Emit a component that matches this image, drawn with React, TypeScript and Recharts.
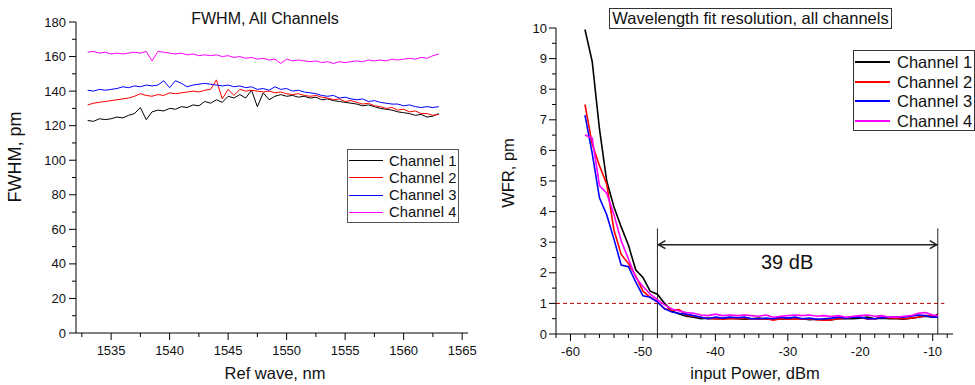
import React from 'react';
import { LineChart, Line, XAxis, YAxis, ReferenceLine, ReferenceDot, Legend } from 'recharts';

const FONT = '"Liberation Sans", Arial, sans-serif';

const channelNames = ['Channel 1', 'Channel 2', 'Channel 3', 'Channel 4'];
const channelColors = ['#000000', '#ff0000', '#0000ff', '#ff00ff'];

// left panel: FWHM vs reference wavelength
const waveNm = [
  1533, 1533.5, 1534, 1534.5, 1535, 1535.5, 1536, 1536.5, 1537, 1537.5,
  1538, 1538.5, 1539, 1539.5, 1540, 1540.5, 1541, 1541.5, 1542, 1542.5,
  1543, 1543.5, 1544, 1544.5, 1545, 1545.5, 1546, 1546.5, 1547, 1547.5,
  1548, 1548.5, 1549, 1549.5, 1550, 1550.5, 1551, 1551.5, 1552, 1552.5,
  1553, 1553.5, 1554, 1554.5, 1555, 1555.5, 1556, 1556.5, 1557, 1557.5,
  1558, 1558.5, 1559, 1559.5, 1560, 1560.5, 1561, 1561.5, 1562, 1562.5, 1563,
];
const fwhmCh1 = [
  123, 122.5, 124, 123.5, 124, 125, 124.5, 126, 127, 130.5,
  123.5, 128, 129, 128.5, 130, 129.5, 131, 130.5, 132, 131.5,
  134, 133, 135, 133.5, 137, 136, 138, 136, 140.5, 131,
  139, 135, 137, 138, 137, 137.5, 136.5, 137, 136, 136.5,
  135, 135.5, 134.5, 134, 133.5, 133, 132.5, 131.5, 132, 131,
  130, 129.5, 129, 128, 127.5, 127, 126, 126.5, 125, 125.5, 127,
];
const fwhmCh2 = [
  132, 133, 133.5, 134, 134.5, 135, 135.5, 136, 137, 138.5,
  137.5, 137, 138, 137.5, 139, 138.5, 139, 139.5, 140, 139.5,
  140.5, 141, 146.5, 135.5, 141, 137.5, 141, 140, 140.5, 140,
  139.5, 140, 139, 139.5, 138.5, 138, 138.5, 137.5, 137, 137.5,
  136.5, 136, 135, 135.5, 134, 134.5, 133.5, 132.5, 133, 131.5,
  131, 130, 130.5, 129, 129.5, 128, 128.5, 127, 127, 126, 126.5,
];
const fwhmCh3 = [
  140.5, 140, 141, 140.5, 141, 141.5, 142.5, 142, 143, 142.5,
  143.5, 143, 143.5, 146, 142, 146, 144.5, 142.5, 143.5, 144,
  144.5, 144, 143.5, 143, 143.5, 142.5, 143, 142, 142.5, 141,
  141.5, 140.5, 142.5, 141, 141.5, 140, 140.5, 139.5, 139, 138.5,
  137.5, 137, 137.5, 136, 136.5, 135.5, 135, 135.5, 134, 134.5,
  133.5, 133, 132.5, 132.5, 131.5, 132, 131, 130.5, 131, 130.5, 131,
];
const fwhmCh4 = [
  162.5, 163, 162, 162.5, 161.5, 162, 161.5, 162, 162.5, 162,
  163, 157.5, 163, 162.5, 162, 161.5, 162, 161, 161.5, 160.5,
  161, 160.5, 161, 160, 160.5, 159.5, 160, 159, 159.5, 158.5,
  159, 158, 158.5, 156, 158.5, 157.5, 158, 157.5, 157, 157.5,
  156.5, 157, 156, 157, 156.5, 157, 157.5, 157, 158, 157.5,
  158, 157.5, 158.5, 158, 158.5, 159, 158.5, 159.5, 159, 160.5, 161.5,
];
const fwhmTicks = [0, 10, 20, 30, 40, 50, 60, 70, 80, 90, 100, 110, 120, 130, 140, 150, 160, 170, 180];
const waveTicks = [1532.5, 1535, 1537.5, 1540, 1542.5, 1545, 1547.5, 1550, 1552.5, 1555, 1557.5, 1560, 1562.5, 1565];

// right panel: wavelength fit resolution vs input power
const powerDbm = [
  -58, -57, -56, -55, -54, -53, -52, -51, -50, -49,
  -48, -47, -46, -45, -44, -43, -42, -41, -40, -39,
  -38, -37, -36, -35, -34, -33, -32, -31, -30, -29,
  -28, -27, -26, -25, -24, -23, -22, -21, -20, -19,
  -18, -17, -16, -15, -14, -13, -12, -11, -10, -9.3,
];
const wfrCh1 = [
  9.95, 8.9, 6.7, 5.0, 4.15, 3.5, 2.9, 2.1, 1.85, 1.4,
  1.3, 1.0, 0.75, 0.65, 0.58, 0.55, 0.5, 0.52, 0.5, 0.5,
  0.52, 0.5, 0.48, 0.5, 0.52, 0.48, 0.5, 0.48, 0.5, 0.5,
  0.5, 0.47, 0.48, 0.46, 0.47, 0.5, 0.5, 0.5, 0.52, 0.55,
  0.5, 0.52, 0.5, 0.5, 0.48, 0.52, 0.55, 0.58, 0.55, 0.65,
];
const wfrCh2 = [
  7.5, 6.2, 5.5, 4.9, 3.4, 2.6, 2.3, 1.9, 1.4, 1.2,
  1.05, 0.82, 0.78, 0.8, 0.62, 0.58, 0.55, 0.5, 0.5, 0.48,
  0.5, 0.5, 0.52, 0.5, 0.48, 0.5, 0.45, 0.5, 0.48, 0.5,
  0.48, 0.5, 0.47, 0.45, 0.46, 0.5, 0.52, 0.55, 0.55, 0.48,
  0.5, 0.55, 0.53, 0.52, 0.5, 0.52, 0.55, 0.6, 0.6, 0.58,
];
const wfrCh3 = [
  7.15, 5.9, 4.45, 3.9, 3.1, 2.25, 2.2, 1.7, 1.25, 1.2,
  1.05, 0.82, 0.72, 0.68, 0.65, 0.6, 0.55, 0.5, 0.55, 0.52,
  0.55, 0.53, 0.55, 0.5, 0.5, 0.52, 0.5, 0.55, 0.52, 0.55,
  0.5, 0.52, 0.48, 0.5, 0.52, 0.55, 0.52, 0.55, 0.55, 0.5,
  0.5, 0.53, 0.55, 0.55, 0.55, 0.58, 0.62, 0.6, 0.55, 0.55,
];
const wfrCh4 = [
  6.5, 6.4, 4.85, 4.6, 3.9, 3.05, 2.45, 1.85, 1.55, 1.3,
  1.12, 0.95, 0.82, 0.75, 0.7, 0.68, 0.62, 0.6, 0.65, 0.6,
  0.62, 0.6, 0.62, 0.6, 0.58, 0.62, 0.55, 0.58, 0.6, 0.62,
  0.6, 0.62, 0.58, 0.6, 0.57, 0.6, 0.55, 0.58, 0.6, 0.62,
  0.58, 0.6, 0.55, 0.55, 0.58, 0.6, 0.68, 0.7, 0.62, 0.6,
];
const wfrTicks = [0, 0.5, 1, 1.5, 2, 2.5, 3, 3.5, 4, 4.5, 5, 5.5, 6, 6.5, 7, 7.5, 8, 8.5, 9, 9.5, 10];
const powerTicks = [-62, -60, -58, -56, -54, -52, -50, -48, -46, -44, -42, -40, -38, -36, -34, -32, -30, -28, -26, -24, -22, -20, -18, -16, -14, -12, -10, -8];

// 39 dB dynamic range annotation
const rangeStart = -48;
const rangeEnd = -9.3;
const rangeTop = 3.45;
const arrowLevel = 2.92;
const rangeLabel = '39 dB';
const thresholdWfr = 1;

const fwhmRows = waveNm.map((x, i) => ({ x, ch1: fwhmCh1[i], ch2: fwhmCh2[i], ch3: fwhmCh3[i], ch4: fwhmCh4[i] }));
const wfrRows = powerDbm.map((x, i) => ({ x, ch1: wfrCh1[i], ch2: wfrCh2[i], ch3: wfrCh3[i], ch4: wfrCh4[i] }));

const yTick = (isMajor: (v: number) => boolean, gap: number) => (props: any) => {
  const { x, y, payload } = props;
  const major = isMajor(payload.value);
  return (
    <g>
      <line x1={x - (major ? 7 : 4)} x2={x} y1={y} y2={y} stroke="#000" />
      {major && (
        <text x={x - gap} y={y} dy={4.5} textAnchor="end" fontSize={13} fontFamily={FONT} fill="#111">
          {payload.value}
        </text>
      )}
    </g>
  );
};

const xTick = (isMajor: (v: number) => boolean, drop: number) => (props: any) => {
  const { x, y, payload } = props;
  const major = isMajor(payload.value);
  return (
    <g>
      <line x1={x} x2={x} y1={y} y2={y + (major ? 7 : 4)} stroke="#000" />
      {major && (
        <text x={x} y={y + drop} dy={4.5} textAnchor="middle" fontSize={13} fontFamily={FONT} fill="#111">
          {payload.value}
        </text>
      )}
    </g>
  );
};

const legendBox = (w: number, h: number, first: number, step: number, fs: number, lineW: number, lw: number, gap: number, border: string) =>
  (props: any) => (
    <div style={{ width: w, height: h, border: `1px solid ${border}`, boxSizing: 'border-box', background: '#fff', position: 'relative', fontFamily: FONT, fontSize: fs, color: '#111' }}>
      {(props.payload || []).map((p: any, i: number) => (
        <div key={i} style={{ position: 'absolute', left: 1, top: first + i * step - 10, height: 20, display: 'flex', alignItems: 'center', whiteSpace: 'nowrap' }}>
          <span style={{ display: 'inline-block', width: lineW, height: 0, borderTop: `${lw}px solid ${p.color}` }} />
          <span style={{ marginLeft: gap, lineHeight: '20px' }}>{p.value}</span>
        </div>
      ))}
    </div>
  );

const arrowShape = (p: any) => {
  const { x1, y1, x2, y2 } = p;
  return (
    <g>
      <line x1={x1} y1={y1} x2={x2} y2={y2} stroke="#222" strokeWidth={1.5} />
      <polyline points={`${x1 + 8},${y1 - 4} ${x1 + 1},${y1} ${x1 + 8},${y1 + 4}`} fill="none" stroke="#222" strokeWidth={1.5} />
      <polyline points={`${x2 - 8},${y2 - 4} ${x2 - 1},${y2} ${x2 - 8},${y2 + 4}`} fill="none" stroke="#222" strokeWidth={1.5} />
    </g>
  );
};

const textStyle: React.CSSProperties = { position: 'absolute', fontFamily: FONT, color: '#111', whiteSpace: 'nowrap', lineHeight: '20px' };

export default function App() {
  const keys = ['ch1', 'ch2', 'ch3', 'ch4'];
  return (
    <div style={{ position: 'absolute', left: 0, top: 0, width: 975, height: 385, overflow: 'hidden', background: '#fff' }}>
      <div style={{ position: 'absolute', left: 0, top: 0 }}>
        <LineChart width={480} height={385} data={fwhmRows} margin={{ top: 22, right: 12, bottom: 22, left: 0 }}>
          <XAxis dataKey="x" type="number" domain={[1532, 1565.5]} ticks={waveTicks} interval={0}
            tickSize={0} tickMargin={0} tickLine={false} axisLine={{ stroke: '#000' }} height={30}
            tick={xTick((v) => v % 5 === 0, 17)} />
          <YAxis type="number" domain={[0, 180]} ticks={fwhmTicks} interval={0} width={76}
            tickSize={0} tickMargin={0} tickLine={false} axisLine={{ stroke: '#000' }}
            tick={yTick((v) => v % 20 === 0, 10)} />
          {keys.map((k, i) => (
            <Line key={k} dataKey={k} name={channelNames[i]} stroke={channelColors[i]} strokeWidth={1}
              dot={false} type="linear" isAnimationActive={false} />
          ))}
          <Legend layout="vertical" align="center" verticalAlign="middle"
            wrapperStyle={{ left: 347, top: 149, width: 112, height: 74 }}
            content={legendBox(112, 74, 10.5, 17.3, 14.8, 34, 1, 6, '#555')} />
        </LineChart>
      </div>
      <div style={{ position: 'absolute', left: 480, top: 0 }}>
        <LineChart width={495} height={385} data={wfrRows} margin={{ top: 28, right: 22, bottom: 21, left: 0 }}>
          <XAxis dataKey="x" type="number" domain={[-62, -7.2]} ticks={powerTicks} interval={0}
            tickSize={0} tickMargin={0} tickLine={false} axisLine={{ stroke: '#000' }} height={30}
            tick={xTick((v) => v % 10 === 0, 17.5)} />
          <YAxis type="number" domain={[0, 10]} ticks={wfrTicks} interval={0} width={76}
            tickSize={0} tickMargin={0} tickLine={false} axisLine={{ stroke: '#000' }}
            tick={yTick((v) => Number.isInteger(v), 9)} />
          <ReferenceLine segment={[{ x: -62, y: thresholdWfr }, { x: -8.4, y: thresholdWfr }]}
            stroke="#c00000" strokeDasharray="4 3" strokeWidth={1} />
          <ReferenceLine segment={[{ x: rangeStart, y: 0 }, { x: rangeStart, y: rangeTop }]} stroke="#222" strokeWidth={1} />
          <ReferenceLine segment={[{ x: rangeEnd, y: 0 }, { x: rangeEnd, y: rangeTop }]} stroke="#222" strokeWidth={1} />
          {keys.map((k, i) => (
            <Line key={k} dataKey={k} name={channelNames[i]} stroke={channelColors[i]} strokeWidth={1.6}
              dot={false} type="linear" isAnimationActive={false} />
          ))}
          <ReferenceLine segment={[{ x: rangeStart, y: arrowLevel }, { x: rangeEnd, y: arrowLevel }]} shape={arrowShape} />
          <ReferenceDot x={-30.1} y={2.36} r={0} stroke="none" fill="none"
            label={{ value: rangeLabel, position: 'center', fontSize: 20, fontFamily: FONT, fill: '#111' }} />
          <Legend layout="vertical" align="center" verticalAlign="middle"
            wrapperStyle={{ left: 373, top: 50, width: 122, height: 81 }}
            content={legendBox(122, 81, 11, 19.5, 16.5, 35, 2, 7, '#333')} />
        </LineChart>
      </div>

      <div style={{ ...textStyle, left: 165, top: 9, width: 200, textAlign: 'center', fontSize: 16 }}>FWHM, All Channels</div>
      <div style={{ ...textStyle, left: 175, top: 363, width: 200, textAlign: 'center', fontSize: 16.5 }}>Ref wave, nm</div>
      <div style={{ ...textStyle, left: 15, top: 157, fontSize: 18, transform: 'translate(-50%, -50%) rotate(-90deg)' }}>FWHM, pm</div>

      <div style={{ ...textStyle, left: 609, top: 8, width: 283, height: 21, boxSizing: 'border-box', border: '1px solid #333', textAlign: 'center', fontSize: 16.5, lineHeight: '19px' }}>
        Wavelength fit resolution, all channels
      </div>
      <div style={{ ...textStyle, left: 655, top: 363, width: 200, textAlign: 'center', fontSize: 16.5 }}>input Power, dBm</div>
      <div style={{ ...textStyle, left: 508, top: 173, fontSize: 16.5, transform: 'translate(-50%, -50%) rotate(-90deg)' }}>WFR, pm</div>
    </div>
  );
}
